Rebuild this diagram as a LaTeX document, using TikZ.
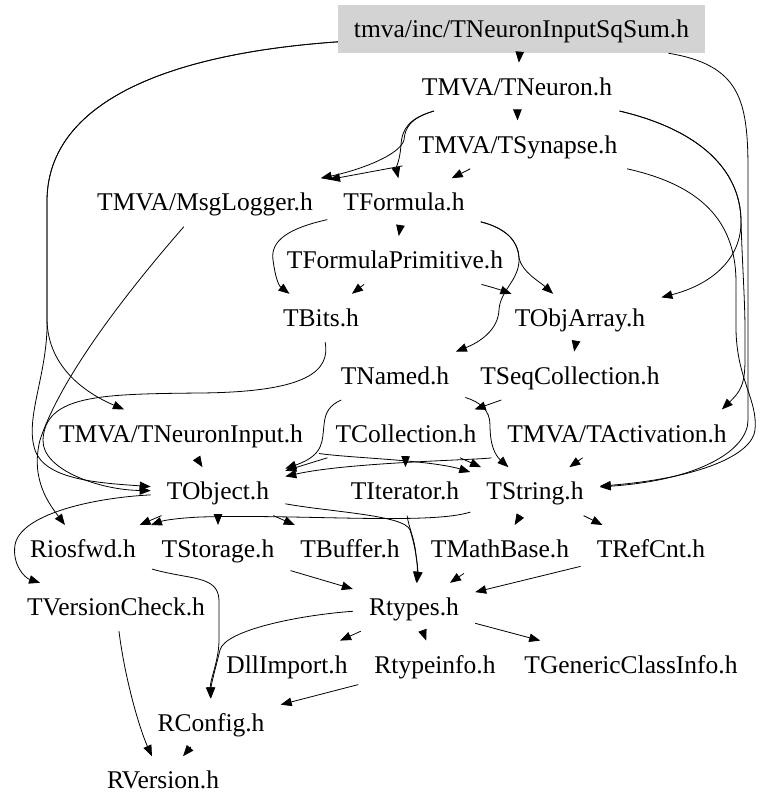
\documentclass[tikz,border=0pt]{standalone}
\usepackage{fontspec}
\setmainfont{Liberation Serif}
\usetikzlibrary{arrows.meta}
\definecolor{rootgray}{RGB}{211,211,211}
\begin{document}
\begin{tikzpicture}[x=1pt,y=-1pt,
  hdr/.style={inner xsep=16pt,inner ysep=0pt,minimum height=48pt,text height=17pt,text depth=0pt,font=\fontsize{25.5}{30}\selectfont},
  conn/.style={draw,line width=0.8pt,-{Triangle[length=11pt,width=8.5pt]}}]
\useasboundingbox (0,0) rectangle (779,807);
% nodes
\node[hdr,fill=rootgray] (sq) at (521.5,29) {tmva/inc/TNeuronInputSqSum.h};
\node[hdr] (neu) at (517,86.8) {TMVA/TNeuron.h};
\node[hdr] (syn) at (518,144.6) {TMVA/TSynapse.h};
\node[hdr] (msg) at (205,202.4) {TMVA/MsgLogger.h};
\node[hdr] (form) at (404,202.4) {TFormula.h};
\node[hdr] (fprim) at (395,260.2) {TFormulaPrimitive.h};
\node[hdr] (bits) at (321,318) {TBits.h};
\node[hdr] (objarr) at (580,318) {TObjArray.h};
\node[hdr] (named) at (395,375.8) {TNamed.h};
\node[hdr] (seq) at (570,375.8) {TSeqCollection.h};
\node[hdr] (ninp) at (181,433.6) {TMVA/TNeuronInput.h};
\node[hdr] (coll) at (406,433.6) {TCollection.h};
\node[hdr] (act) at (617,433.6) {TMVA/TActivation.h};
\node[hdr] (tobj) at (218,491.4) {TObject.h};
\node[hdr] (iter) at (405,491.4) {TIterator.h};
\node[hdr] (str) at (535,491.4) {TString.h};
\node[hdr] (rios) at (83,549.2) {Riosfwd.h};
\node[hdr] (stor) at (218,549.2) {TStorage.h};
\node[hdr] (buf) at (350,549.2) {TBuffer.h};
\node[hdr] (math) at (500,549.2) {TMathBase.h};
\node[hdr] (refc) at (651,549.2) {TRefCnt.h};
\node[hdr] (vchk) at (116,607) {TVersionCheck.h};
\node[hdr] (rty) at (414,607) {Rtypes.h};
\node[hdr] (dll) at (287,664.8) {DllImport.h};
\node[hdr] (rti) at (435,664.8) {Rtypeinfo.h};
\node[hdr] (gci) at (631,664.8) {TGenericClassInfo.h};
\node[hdr] (rcfg) at (211,722.6) {RConfig.h};
\node[hdr] (rver) at (163,780.4) {RVersion.h};
% edges
\draw[conn] (sq) -- (neu);
\draw[conn] (sq) .. controls (150,55) and (48,110) .. (47,200) -- (47,320) .. controls (48,370) and (90,395) .. (ninp);
\draw[conn] (sq) .. controls (150,55) and (48,110) .. (47,200) -- (47,330) .. controls (45,380) and (25,420) .. (35,450) .. controls (45,480) and (100,483) .. (tobj);
\draw[conn] (msg) .. controls (120,300) and (60,380) .. (40,440) .. controls (30,480) and (50,505) .. (rios);
\draw[conn] (neu) -- (syn);
\draw[conn] (neu) .. controls (410,118) and (405,128) .. (404,140) .. controls (400,155) and (360,170) .. (msg);
\draw[conn] (neu) .. controls (410,118) and (402,128) .. (401,145) .. controls (400,160) and (396,168) .. (form);
\draw[conn] (syn) -- (msg);
\draw[conn] (syn) -- (form);
\draw[conn] (form) -- (fprim);
\draw[conn] (form) .. controls (290,228) and (270,240) .. (273,260) .. controls (275,275) and (278,285) .. (bits);
\draw[conn] (form) .. controls (505,228) and (518,240) .. (519,258) .. controls (522,272) and (540,282) .. (objarr);
\draw[conn] (form) .. controls (505,228) and (518,240) .. (519,258) .. controls (520,280) and (500,290) .. (499,310) .. controls (498,330) and (480,342) .. (named);
\draw[conn] (fprim) -- (bits);
\draw[conn] (fprim) .. controls (480,284) and (495,288) .. (objarr);
\draw[conn] (objarr) -- (seq);
\draw[conn] (seq) -- (coll);
\draw[conn] (named) .. controls (480,402) and (490,410) .. (490,425) .. controls (490,445) and (495,455) .. (str);
\draw[conn] (named) .. controls (330,405) and (325,412) .. (324,425) .. controls (322,440) and (325,455) .. (tobj);
\draw[conn] (bits) .. controls (330,370) and (310,392) .. (200,393) .. controls (100,394) and (45,395) .. (43,440) .. controls (42,470) and (100,490) .. (tobj);
\draw[conn] (ninp) -- (tobj);
\draw[conn] (ninp) .. controls (350,458) and (430,460) .. (str);
\draw[conn] (coll) -- (tobj);
\draw[conn] (coll) -- (str);
\draw[conn] (coll) -- (iter);
\draw[conn] (act) .. controls (480,460) and (350,462) .. (tobj);
\draw[conn] (act) -- (str);
\draw[conn] (tobj) -- (rios);
\draw[conn] (str) .. controls (430,525) and (300,514) .. (200,517) .. controls (180,518) and (165,520) .. (rios);
\draw[conn] (tobj) -- (buf);
\draw[conn] (tobj) -- (stor);
\draw[conn] (tobj) .. controls (90,498) and (20,515) .. (15,545) .. controls (12,565) and (25,578) .. (vchk);
\draw[conn] (tobj) .. controls (330,512) and (405,515) .. (410,530) .. controls (415,545) and (418,565) .. (rty);
\draw[conn] (iter) .. controls (408,525) and (415,540) .. (416,555) .. controls (418,568) and (418,575) .. (rty);
\draw[conn] (str) -- (math);
\draw[conn] (str) -- (refc);
\draw[conn] (rios) .. controls (190,580) and (218,575) .. (219,600) -- (219,640) .. controls (219,660) and (210,680) .. (rcfg);
\draw[conn] (rty) .. controls (300,615) and (225,630) .. (220,650) .. controls (215,670) and (211,685) .. (rcfg);
\draw[conn] (vchk) .. controls (125,680) and (140,730) .. (rver);
\draw[conn] (rcfg) -- (rver);
\draw[conn] (stor) -- (rty);
\draw[conn] (math) -- (rty);
\draw[conn] (refc) -- (rty);
\draw[conn] (rty) -- (dll);
\draw[conn] (rty) -- (rti);
\draw[conn] (rty) -- (gci);
\draw[conn] (rti) -- (rcfg);
\draw[conn] (sq) .. controls (740,65) and (748,100) .. (748,170) -- (748,420) .. controls (748,450) and (700,480) .. (str);
\draw[conn] (neu) .. controls (700,130) and (740,170) .. (741,220) .. controls (742,260) and (710,285) .. (objarr);
\draw[conn] (neu) .. controls (700,130) and (740,170) .. (741,220) .. controls (742,260) and (745,300) .. (745,330) -- (745,360) .. controls (745,385) and (740,392) .. (act.13);
\draw[conn] (syn) .. controls (700,185) and (735,220) .. (736,280) -- (736,330) .. controls (737,380) and (758,400) .. (755,430) .. controls (752,455) and (700,478) .. (str);
\end{tikzpicture}
\end{document}
